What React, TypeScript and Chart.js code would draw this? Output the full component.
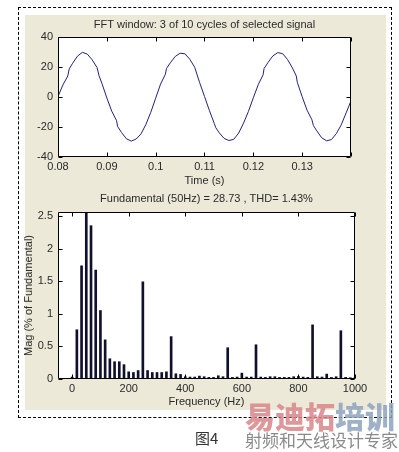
import React, { useEffect, useRef } from "react";
import { Chart, registerables } from "chart.js";

Chart.register(...registerables);

// ---------- Data: top panel (signal window) ----------
const TIME_S = [
  0.08, 0.081, 0.082, 0.0823, 0.083, 0.084, 0.085, 0.086, 0.087, 0.088, 0.0884, 0.089,
  0.09, 0.091, 0.092, 0.0922, 0.093, 0.094, 0.095, 0.096, 0.097, 0.098, 0.099,
  0.1, 0.101, 0.102, 0.1022, 0.103, 0.104, 0.105, 0.106, 0.107, 0.108, 0.109,
  0.11, 0.111, 0.112, 0.1123, 0.113, 0.114, 0.115, 0.116, 0.117, 0.118, 0.119,
  0.12, 0.121, 0.122, 0.1222, 0.123, 0.124, 0.125, 0.126, 0.127, 0.128, 0.1288, 0.129,
  0.13, 0.131, 0.132, 0.1323, 0.133, 0.134, 0.135, 0.136, 0.137, 0.138, 0.139, 0.14,
];
const SIGNAL = [
  0.3, 8.0, 14.0, 18.8, 22.5, 27.3, 29.8, 28.6, 24.8, 19.6, 14.2, 9.0,
  -0.6, -9.4, -15.8, -19.6, -23.6, -27.8, -29.4, -28.0, -24.6, -18.3, -10.2,
  -0.8, 8.6, 15.2, 18.9, 22.8, 27.0, 29.2, 28.8, 25.1, 19.8, 9.6,
  0.4, -9.0, -17.6, -20.4, -23.8, -27.6, -29.0, -28.2, -24.0, -17.4, -9.6,
  -0.5, 8.2, 14.8, 19.0, 23.0, 27.4, 29.6, 28.9, 25.0, 19.4, 14.0, 9.8,
  0.2, -8.8, -15.2, -19.0, -22.6, -27.2, -29.2, -28.4, -24.4, -18.6, -10.6, -2.6,
];
const TIME_TICKS = [0.08, 0.09, 0.1, 0.11, 0.12, 0.13, 0.14];
const SIGNAL_TICKS = [-40, -20, 0, 20, 40];

// ---------- Data: bottom panel (FFT spectrum) ----------
const FREQ_HZ = [
  0, 16.7, 33.3, 50, 66.7, 83.3, 100, 116.7, 133.3, 150, 166.7, 183.3,
  200, 216.7, 233.3, 250, 266.7, 283.3, 300, 316.7, 333.3, 350, 366.7, 383.3,
  400, 416.7, 433.3, 450, 466.7, 483.3, 500, 516.7, 533.3, 550, 566.7, 583.3,
  600, 616.7, 633.3, 650, 666.7, 683.3, 700, 716.7, 733.3, 750, 766.7, 783.3,
  800, 816.7, 833.3, 850, 866.7, 883.3, 900, 916.7, 933.3, 950, 966.7, 983.3, 1000,
];
const MAG_PCT = [
  0.03, 0.755, 1.735, 100, 2.35, 1.67, 1.05, 0.6, 0.31, 0.265, 0.265, 0.22,
  0.11, 0.1, 0.13, 1.49, 0.13, 0.1, 0.1, 0.1, 0.11, 0.65, 0.08, 0.07,
  0.035, 0.03, 0.03, 0.045, 0.035, 0.025, 0.025, 0.05, 0.035, 0.48, 0.025, 0.03,
  0.09, 0.03, 0.03, 0.525, 0.03, 0.025, 0.035, 0.035, 0.025, 0.025, 0.025, 0.035,
  0.04, 0.03, 0.025, 0.83, 0.035, 0.03, 0.075, 0.025, 0.035, 0.74, 0.025, 0.02, 0.02,
];
const FREQ_TICKS = [0, 200, 400, 600, 800, 1000];
const MAG_TICKS = [0, 0.5, 1, 1.5, 2, 2.5];

const TOP_TITLE = "FFT window: 3 of 10 cycles of selected signal";
const BOTTOM_TITLE = "Fundamental (50Hz) = 28.73 , THD= 1.43%";

const FONT_FAMILY = "'Liberation Sans', Arial, sans-serif";
const TEXT_COLOR = "#2a2a2a";

const framePlugin = {
  id: "matlabFrame",
  beforeDraw(chart: any) {
    const { ctx, chartArea: a } = chart;
    ctx.save();
    ctx.fillStyle = "#ffffff";
    ctx.fillRect(a.left, a.top, a.right - a.left, a.bottom - a.top);
    ctx.restore();
  },
  afterDraw(chart: any) {
    const { ctx, chartArea: a, scales } = chart;
    const L = 4;
    const left = Math.round(a.left) + 0.5;
    const right = Math.round(a.right) - 0.5;
    const top = Math.round(a.top) + 0.5;
    const bottom = Math.round(a.bottom) - 0.5;
    ctx.save();
    ctx.strokeStyle = "#000000";
    ctx.lineWidth = 1;
    ctx.beginPath();
    ctx.rect(left, top, right - left, bottom - top);
    scales.x.ticks.forEach((t: any) => {
      const px = Math.round(scales.x.getPixelForValue(t.value)) + 0.5;
      ctx.moveTo(px, bottom);
      ctx.lineTo(px, bottom - L);
      ctx.moveTo(px, top);
      ctx.lineTo(px, top + L);
    });
    scales.y.ticks.forEach((t: any) => {
      const py = Math.round(scales.y.getPixelForValue(t.value)) + 0.5;
      ctx.moveTo(left, py);
      ctx.lineTo(left + L, py);
      ctx.moveTo(right, py);
      ctx.lineTo(right - L, py);
    });
    ctx.stroke();
    ctx.restore();
  },
};

const fmt = (v: number) => String(Number(v.toFixed(3)));

export default function App() {
  const topRef = useRef<HTMLCanvasElement | null>(null);
  const botRef = useRef<HTMLCanvasElement | null>(null);

  useEffect(() => {
    const font = { family: FONT_FAMILY, size: 11 };
    const top = new Chart(topRef.current as HTMLCanvasElement, {
      type: "line",
      data: {
        datasets: [
          {
            data: TIME_S.map((t, i) => ({ x: t, y: SIGNAL[i] })),
            borderColor: "#22227c",
            borderWidth: 1,
            pointRadius: 0,
            tension: 0,
            fill: false,
          },
        ],
      },
      options: {
        animation: false,
        responsive: false,
        devicePixelRatio: 1,
        layout: { padding: { left: 0, right: 48, top: 0, bottom: 452 - 195 } },
        plugins: {
          legend: { display: false },
          tooltip: { enabled: false },
          title: {
            display: true,
            text: TOP_TITLE,
            fullSize: false,
            color: TEXT_COLOR,
            font: { ...font, weight: "normal" },
            padding: { top: 18.4, bottom: 5.4 },
          },
        },
        scales: {
          x: {
            type: "linear",
            min: 0.08,
            max: 0.14,
            grid: { display: false, drawTicks: false },
            border: { display: false },
            afterBuildTicks: (s: any) => {
              s.ticks = TIME_TICKS.map((v) => ({ value: v }));
            },
            afterFit: (s: any) => {
              s.height = 38;
            },
            ticks: {
              autoSkip: false,
              maxRotation: 0,
              padding: 3,
              color: TEXT_COLOR,
              font,
              callback: (v: any) => (Math.abs(v - 0.14) < 1e-9 ? "" : fmt(v)),
            },
            title: {
              display: true,
              text: "Time (s)",
              color: TEXT_COLOR,
              font,
              padding: { top: 0, bottom: 7.4 },
            },
          },
          y: {
            type: "linear",
            min: -40,
            max: 40,
            grid: { display: false, drawTicks: false },
            border: { display: false },
            afterBuildTicks: (s: any) => {
              s.ticks = SIGNAL_TICKS.map((v) => ({ value: v }));
            },
            afterFit: (s: any) => {
              s.width = 58;
            },
            ticks: { autoSkip: false, padding: 5, color: TEXT_COLOR, font, callback: (v: any) => fmt(v) },
          },
        },
      },
      plugins: [framePlugin],
    } as any);

    const bot = new Chart(botRef.current as HTMLCanvasElement, {
      type: "bar",
      data: {
        datasets: [
          {
            data: FREQ_HZ.map((f, i) => ({ x: f, y: MAG_PCT[i] })),
            backgroundColor: "#10102e",
            borderWidth: 0,
            barThickness: 2,
            grouped: false,
          },
        ],
      },
      options: {
        animation: false,
        responsive: false,
        devicePixelRatio: 1,
        layout: { padding: { left: 0, right: 44, top: 190, bottom: 42 } },
        plugins: {
          legend: { display: false },
          tooltip: { enabled: false },
          title: {
            display: true,
            text: BOTTOM_TITLE,
            fullSize: false,
            color: TEXT_COLOR,
            font: { ...font, weight: "normal" },
            padding: { top: 2.4, bottom: 6.4 },
          },
        },
        scales: {
          x: {
            type: "linear",
            min: -50,
            max: 1000,
            offset: false,
            grid: { display: false, drawTicks: false },
            border: { display: false },
            afterBuildTicks: (s: any) => {
              s.ticks = FREQ_TICKS.map((v) => ({ value: v }));
            },
            afterFit: (s: any) => {
              s.height = 31;
            },
            ticks: { autoSkip: false, maxRotation: 0, padding: 3.5, color: TEXT_COLOR, font, callback: (v: any) => fmt(v) },
            title: {
              display: true,
              text: "Frequency (Hz)",
              color: TEXT_COLOR,
              font,
              padding: { top: 0, bottom: 1.4 },
            },
          },
          y: {
            type: "linear",
            min: 0,
            max: 2.56,
            grid: { display: false, drawTicks: false },
            border: { display: false },
            afterBuildTicks: (s: any) => {
              s.ticks = MAG_TICKS.map((v) => ({ value: v }));
            },
            afterFit: (s: any) => {
              s.width = 58;
            },
            ticks: { autoSkip: false, padding: 5, color: TEXT_COLOR, font, callback: (v: any) => fmt(v) },
            title: {
              display: true,
              text: "Mag (% of Fundamental)",
              color: TEXT_COLOR,
              font,
              padding: { top: 22.4, bottom: 0 },
            },
          },
        },
      },
      plugins: [framePlugin],
    } as any);

    return () => {
      top.destroy();
      bot.destroy();
    };
  }, []);

  const abs = (o: React.CSSProperties): React.CSSProperties => ({ position: "absolute", ...o });

  return (
    <div style={abs({ left: 0, top: 0, width: 399, height: 452, background: "#ffffff", overflow: "hidden" })}>
      <div style={abs({ left: 18, top: 7, width: 374, height: 411, border: "1px dashed #000", boxSizing: "border-box" })} />
      <div style={abs({ left: 25, top: 15, width: 361, height: 395, background: "#ECE9D8" })} />
      <canvas ref={botRef} width={399} height={452} style={abs({ left: 0, top: 0, width: 399, height: 452 })} />
      <canvas ref={topRef} width={399} height={452} style={abs({ left: 0, top: 0, width: 399, height: 452 })} />
      <div
        style={abs({
          left: 245,
          top: 399,
          fontFamily: "'Noto Sans CJK SC', sans-serif",
          fontSize: 30,
          fontWeight: 900,
          lineHeight: "32px",
          whiteSpace: "nowrap",
          opacity: 0.85,
        })}
      >
        <span style={{ color: "#d9868b" }}>易迪拓</span>
        <span style={{ color: "#8ea4be" }}>培训</span>
      </div>
      <div
        style={abs({
          left: 245,
          top: 431,
          fontFamily: "'Noto Sans CJK SC', sans-serif",
          fontSize: 17,
          lineHeight: "18px",
          color: "#8a8a8a",
          whiteSpace: "nowrap",
        })}
      >
        射频和天线设计专家
      </div>
      <div
        style={abs({
          left: 195,
          top: 430,
          fontFamily: "'Noto Sans CJK SC', sans-serif",
          fontSize: 15,
          lineHeight: "16px",
          color: "#333",
          whiteSpace: "nowrap",
        })}
      >
        图4
      </div>
    </div>
  );
}
